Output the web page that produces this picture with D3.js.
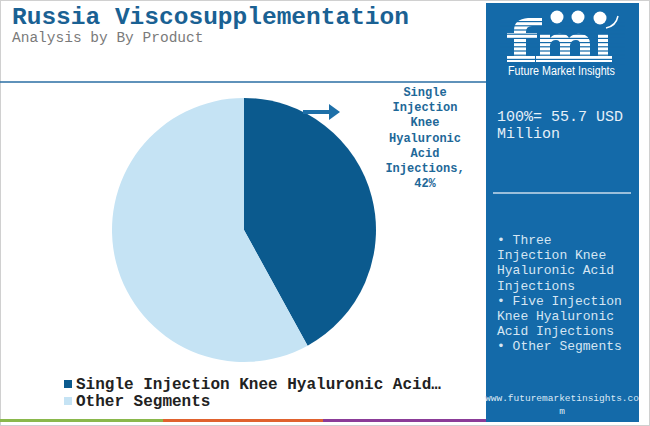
<!DOCTYPE html>
<html><head><meta charset="utf-8">
<script src="https://cdn.jsdelivr.net/npm/d3@7"></script>
<style>html,body{margin:0;padding:0;background:#fff;}svg{display:block;}</style>
</head><body>
<script>
const categories = ["Single Injection Knee Hyaluronic Acid Injections", "Other Segments"];
const values = [42, 58];
const legendLabels = ["Single Injection Knee Hyaluronic Acid\u2026", "Other Segments"];
const calloutLines = ["Single", "Injection", "Knee", "Hyaluronic", "Acid", "Injections,", "42%"];
const totalLines = ["100%= 55.7 USD", "Million"];
const otherLines = ["\u2022 Three", "Injection Knee", "Hyaluronic Acid", "Injections", "\u2022 Five Injection", "Knee Hyaluronic", "Acid Injections", "\u2022 Other Segments"];
const colors = ["#0b5a8e", "#c5e3f4"];

const W = 650, H = 426;
const mono = "'Courier New','Liberation Mono',monospace";
const svg = d3.select("body").append("svg").attr("width", W).attr("height", H);

svg.append("rect").attr("x",0.5).attr("y",0.5).attr("width",W-1).attr("height",H-1).attr("fill","#fff").attr("stroke","#d0d0d0");

// Title
svg.append("text").attr("x",12).attr("y",24).attr("font-family",mono).attr("font-weight","bold").attr("font-size",24.5).attr("fill","#1a6193").text("Russia Viscosupplementation");
svg.append("text").attr("x",12).attr("y",42).attr("font-family",mono).attr("font-size",14.5).attr("fill","#7a7a7a").text("Analysis by By Product");
svg.append("line").attr("x1",0).attr("x2",486).attr("y1",82).attr("y2",82).attr("stroke","#2a6ea3").attr("stroke-width",1.5);

// Pie
const cx = 244, cy = 230, r = 132;
const pie = d3.pie().sort(null).value(d => d)(values);
const arc = d3.arc().innerRadius(0).outerRadius(r);
const g = svg.append("g").attr("transform", `translate(${cx},${cy})`);
g.selectAll("path").data(pie).enter().append("path").attr("d", arc).attr("fill", (d,i) => colors[i]);

// Callout arrow
const arrowY = cy - r + 14;
svg.append("line").attr("x1",303).attr("x2",331).attr("y1",arrowY).attr("y2",arrowY).attr("stroke","#1d6fa8").attr("stroke-width",4);
svg.append("path").attr("d",`M329,${arrowY-8} L340,${arrowY} L329,${arrowY+8} Z`).attr("fill","#1d6fa8");

// Callout text
const ct = svg.append("text").attr("font-family",mono).attr("font-weight","bold").attr("font-size",12).attr("fill","#1e6898").attr("text-anchor","middle");
calloutLines.forEach((t,i) => ct.append("tspan").attr("x",425).attr("y",96 + i*15.2).text(t));

// Legend
legendLabels.forEach((t,i) => {
  const y = 385 + i*17;
  svg.append("rect").attr("x",64).attr("y",y-5).attr("width",8).attr("height",8).attr("fill",colors[i]);
  svg.append("text").attr("x",76).attr("y",y+4).attr("font-family",mono).attr("font-weight","bold").attr("font-size",16).attr("fill","#222").text(t);
});

// Bottom color bars
[["#8ab84c",0,163],["#e0622e",163,323],["#8b3c98",323,486]].forEach(([c,a,b]) => {
  svg.append("rect").attr("x",a).attr("y",419).attr("width",b-a).attr("height",3).attr("fill",c);
});

// Right panel
const panelColor = "#146aa9";
svg.append("rect").attr("x",486).attr("y",3).attr("width",153).attr("height",419).attr("fill",panelColor);

// Logo (drawn as shapes)
const logo = svg.append("g").attr("fill","#fff");
logo.append("path").attr("d","M514,62 L514,30 Q514,19 528,18 L542,18 L542,26 L532,26 Q526,26 526,32 L526,62 Z");
logo.append("rect").attr("x",507).attr("y",33).attr("width",30).attr("height",6);
logo.append("rect").attr("x",507).attr("y",56).attr("width",28).attr("height",6);
logo.append("path").attr("d","M540,62 L540,34 L550,34 L550,38 Q555,33 562,34 Q567,34 569,38 Q574,33 581,34 Q590,35 590,44 L590,62 L580,62 L580,44 Q580,40 576,40 Q571,40 570,45 L570,62 L560,62 L560,44 Q560,40 556,40 Q551,40 550,45 L550,62 Z");
logo.append("rect").attr("x",536).attr("y",56).attr("width",58).attr("height",6);
logo.append("rect").attr("x",598).attr("y",34).attr("width",10).attr("height",28);
logo.append("rect").attr("x",594).attr("y",56).attr("width",18).attr("height",6);
for (let y = 21; y < 64; y += 4.2) {
  svg.append("rect").attr("x",500).attr("y",y).attr("width",125).attr("height",1.2).attr("fill",panelColor);
}
[[557,17],[578,17],[600,18]].forEach(([x,y]) => svg.append("circle").attr("cx",x).attr("cy",y).attr("r",6.5).attr("fill","#fff"));
svg.append("path").attr("d","M606,28 Q616,26 618,16").attr("fill","none").attr("stroke","#fff").attr("stroke-width",1.5);
svg.append("text").attr("x",508).attr("y",75).attr("textLength",107).attr("lengthAdjust","spacingAndGlyphs").attr("font-family","'Liberation Sans',Arial,sans-serif").attr("font-size",12).attr("fill","#fff").text("Future Market Insights");

// Total
totalLines.forEach((t,i) => svg.append("text").attr("x",497).attr("y",121 + i*17).attr("font-family",mono).attr("font-size",15).attr("fill","#e6f0f8").text(t));
svg.append("line").attr("x1",493).attr("x2",631).attr("y1",193).attr("y2",193).attr("stroke","#c9dcec").attr("stroke-width",1.5);

// Other segments
otherLines.forEach((t,i) => svg.append("text").attr("x",497).attr("y",244 + i*15.2).attr("font-family",mono).attr("font-size",13).attr("fill","#d6e6f3").text(t));

// URL
svg.append("text").attr("x",562).attr("y",401).attr("text-anchor","middle").attr("font-family",mono).attr("font-size",9.5).attr("fill","#dce9f5").text("www.futuremarketinsights.co");
svg.append("text").attr("x",562).attr("y",414).attr("text-anchor","middle").attr("font-family",mono).attr("font-size",9.5).attr("fill","#dce9f5").text("m");
</script>
</body></html>
